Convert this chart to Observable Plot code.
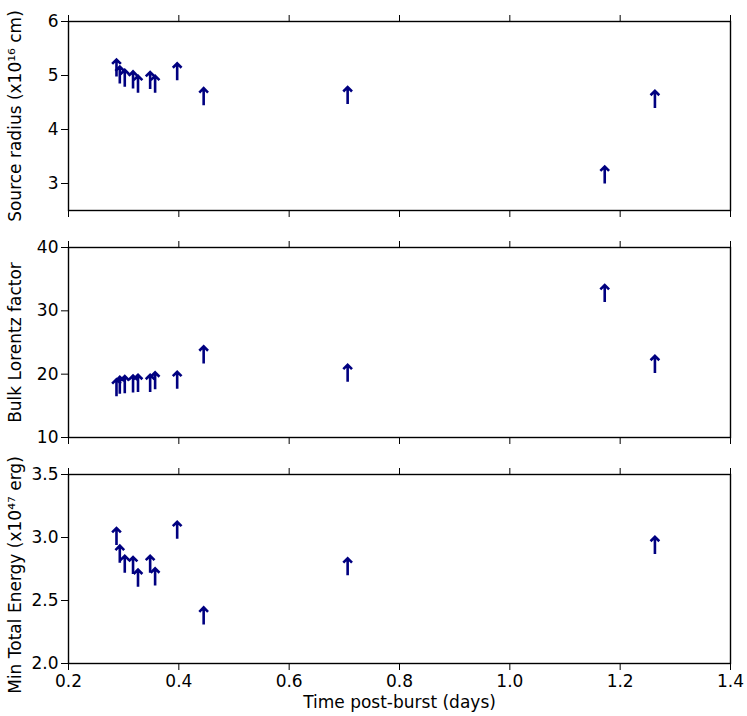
<!DOCTYPE html>
<html><head><meta charset="utf-8">
<script src="https://cdn.jsdelivr.net/npm/d3@7"></script>
<script src="https://cdn.jsdelivr.net/npm/@observablehq/plot@0.6"></script>
<style>
body{margin:0;background:#fff;}
#chart svg{display:block;overflow:visible;}
</style>
</head><body><div id="chart"></div>
<script>
// Data (lower limits)
const times = [0.287, 0.293, 0.302, 0.317, 0.326, 0.348, 0.357, 0.397, 0.445, 0.706, 1.172, 1.263];
const sourceRadius = [4.98, 4.85, 4.79, 4.76, 4.68, 4.75, 4.68, 4.91, 4.45, 4.47, 3.00, 4.40];
const lorentzFactor = [16.5, 16.9, 17.0, 17.1, 17.2, 17.2, 17.6, 17.7, 21.7, 18.8, 31.4, 20.2];
const minEnergy = [2.94, 2.80, 2.72, 2.71, 2.61, 2.72, 2.62, 2.99, 2.31, 2.70, null, 2.87];

const xTicks = [0.2, 0.4, 0.6, 0.8, 1.0, 1.2, 1.4];
const radiusTicks = [3, 4, 5, 6];
const lorentzTicks = [10, 20, 30, 40];
const energyTicks = [2.0, 2.5, 3.0, 3.5];

const xLabel = "Time post-burst (days)";
const radiusLabel = "Source radius (x10¹⁶ cm)";
const lorentzLabel = "Bulk Lorentz factor";
const energyLabel = "Min Total Energy (x10⁴⁷ erg)";

const FONT = "DejaVu Sans";
const FS = 17;
const ARROW = "#000080";

const panels = [
  {values: sourceRadius, label: radiusLabel, domain: [2.5, 6], ticks: radiusTicks, fmt: d3.format("d"),
   height: 229, marginTop: 21, marginBottom: 19, showX: false, labelShift: 0},
  {values: lorentzFactor, label: lorentzLabel, domain: [10, 40], ticks: lorentzTicks, fmt: d3.format("d"),
   height: 226, marginTop: 18, marginBottom: 18, showX: false, labelShift: 0},
  {values: minEnergy, label: energyLabel, domain: [2.0, 3.5], ticks: energyTicks, fmt: d3.format(".1f"),
   height: 261, marginTop: 19, marginBottom: 53, showX: true, labelShift: 6}
];

const container = document.getElementById("chart");

for (const p of panels) {
  const data = times.map((t, i) => ({t, v: p.values[i]})).filter(d => d.v != null);
  const marks = [
    Plot.frame({stroke: "black", strokeWidth: 1.4}),
    Plot.axisY({ticks: p.ticks, tickFormat: p.fmt, tickSize: 7, tickPadding: 3, fontSize: FS, label: null}),
    Plot.axisX({anchor: "top", ticks: xTicks, tickSize: 7, tickFormat: () => "", fill: "none", label: null}),
    p.showX
      ? Plot.axisX({anchor: "bottom", ticks: xTicks, tickSize: 7, tickPadding: 4.5, tickFormat: d3.format(".1f"), fontSize: FS, label: null})
      : Plot.axisX({anchor: "bottom", ticks: xTicks, tickSize: 7, tickFormat: () => "", fill: "none", label: null}),
    Plot.vector(data, {x: "t", y: "v", length: 17, rotate: 0, anchor: "start", stroke: ARROW, strokeWidth: 2.6, r: 4.5,
      strokeLinecap: "butt", strokeLinejoin: "miter"}),
    Plot.text([p.label], {frameAnchor: "left", dx: -53, dy: p.labelShift, rotate: -90, text: d => d, fontSize: FS,
      textAnchor: "middle", lineAnchor: "middle", fill: "black"})
  ];
  if (p.showX) {
    marks.push(Plot.text([xLabel], {frameAnchor: "bottom", dy: 39, text: d => d, fontSize: FS, textAnchor: "middle", lineAnchor: "middle", fill: "black"}));
  }
  const chart = Plot.plot({
    width: 747,
    height: p.height,
    marginLeft: 68,
    marginRight: 17,
    marginTop: p.marginTop,
    marginBottom: p.marginBottom,
    style: {fontFamily: FONT, fontSize: FS + "px", background: "white", overflow: "visible"},
    x: {type: "linear", domain: [0.2, 1.4]},
    y: {type: "linear", domain: p.domain},
    marks
  });
  container.appendChild(chart);
}
</script>
</body></html>
